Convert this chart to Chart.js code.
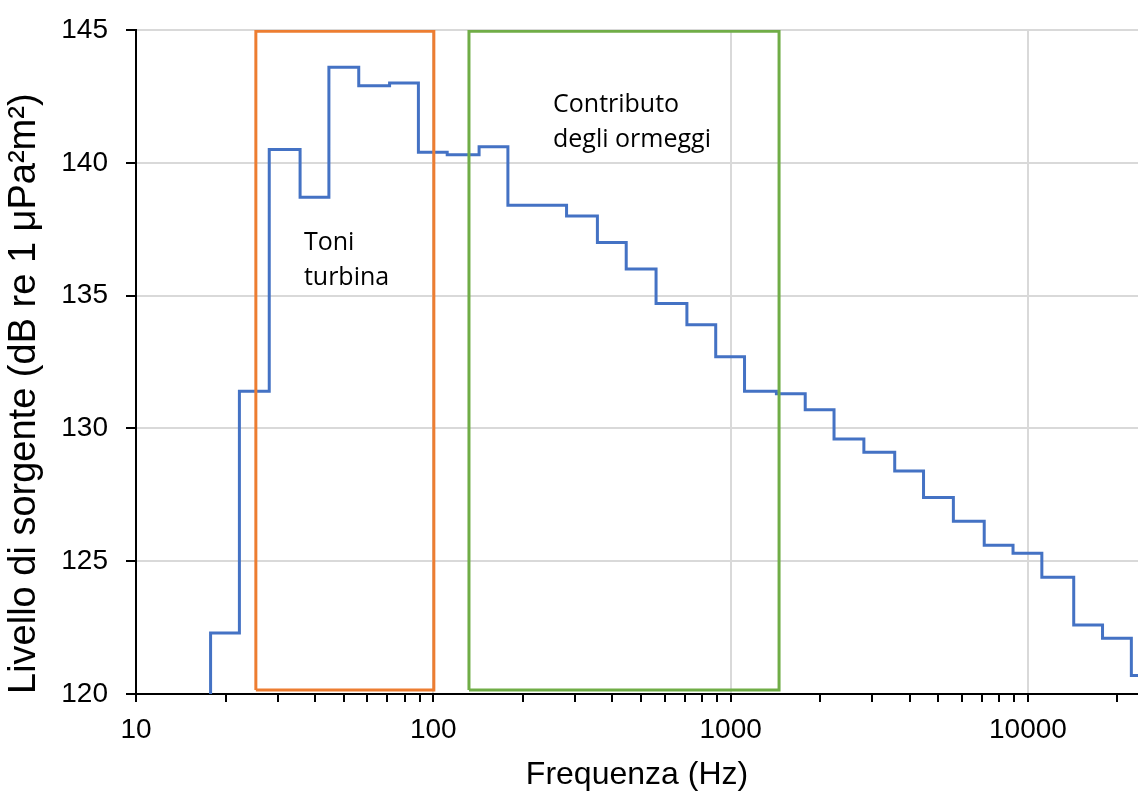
<!DOCTYPE html>
<html>
<head>
<meta charset="utf-8">
<script src="https://cdn.jsdelivr.net/npm/chart.js@4/dist/chart.umd.min.js"></script>
<style>
    html, body { margin: 0; padding: 0; background: #ffffff; }
    #wrap { width: 1138px; height: 794px; }
</style>
</head>
<body>
<div id="wrap"><canvas id="sourceChart" width="1138" height="794"></canvas></div>
<script>
// Bande a terzi d'ottava (frequenze nominali, Hz)
const bandCenters = [20, 25, 31.5, 40, 50, 63, 80, 100, 125, 160, 200, 250, 315, 400, 500, 630,
    800, 1000, 1250, 1600, 2000, 2500, 3150, 4000, 5000, 6300, 8000, 10000, 12500, 16000, 20000, 25000];
// Livello di sorgente per banda (dB re 1 µPa²m²)
const sourceLevels = [122.3, 131.4, 140.5, 138.7, 143.6, 142.9, 143.0, 140.4, 140.3, 140.6, 138.4, 138.4,
    138.0, 137.0, 136.0, 134.7, 133.9, 132.7, 131.4, 131.3, 130.7, 129.6, 129.1, 128.4, 127.4, 126.5,
    125.6, 125.3, 124.4, 122.6, 122.1, 120.7];

// Riquadri evidenziati (Hz, dB)
const turbineBoxX = [25.3, 100.4];
const turbineBoxY = [120.15, 144.95];
const mooringBoxX = [131.8, 1455];
const mooringBoxY = [120.15, 144.95];

const turbineLabel = ["Toni", "turbina"];
const mooringLabel = ["Contributo", "degli ormeggi"];
const turbineLabelAt = [36.7, 136.7];
const mooringLabelAt = [252.7, 141.9];

// Etichette asse
const xDecades = [10, 100, 1000, 10000];
const yTicks = [120, 125, 130, 135, 140, 145];

// Costruzione punti del grafico a gradini
function buildSteps() {
    const lowerEdge = f => f / Math.pow(2, 1 / 6);
    const points = [{ x: lowerEdge(bandCenters[0]), y: yTicks[0] }];
    bandCenters.forEach((f, i) => points.push({ x: lowerEdge(f), y: sourceLevels[i] }));
    const last = bandCenters.length - 1;
    points.push({ x: bandCenters[last] * Math.pow(2, 1 / 6), y: sourceLevels[last] });
    return points;
}

function buildBox(xs, ys) {
    return [
        { x: xs[0], y: ys[0] }, { x: xs[0], y: ys[1] }, { x: xs[1], y: ys[1] },
        { x: xs[1], y: ys[0] }, { x: xs[0], y: ys[0] }
    ];
}

// Tacche minori dell'asse x
const xTickValues = [];
xDecades.forEach(d => {
    for (let k = 1; k <= 9; k++) {
        if (d * k <= 20000) xTickValues.push(d * k);
    }
});

// Plugin per le scritte dentro il grafico
const boxLabels = {
    id: "boxLabels",
    afterDatasetsDraw(chart) {
        const ctx = chart.ctx;
        const xs = chart.scales.x;
        const ys = chart.scales.y;
        ctx.save();
        ctx.fillStyle = "#000000";
        ctx.font = "25px 'Open Sans'";
        ctx.textAlign = "left";
        ctx.textBaseline = "alphabetic";
        [[turbineLabel, turbineLabelAt], [mooringLabel, mooringLabelAt]].forEach(([lines, at]) => {
            const px = xs.getPixelForValue(at[0]);
            const py = ys.getPixelForValue(at[1]);
            lines.forEach((t, i) => ctx.fillText(t, px, py + i * 35));
        });
        ctx.restore();
    }
};

const ctx = document.getElementById("sourceChart").getContext("2d");
new Chart(ctx, {
    type: "line",
    data: {
        datasets: [
            {
                label: "Livello di sorgente",
                data: buildSteps(),
                borderColor: "#4472C4",
                borderWidth: 3,
                stepped: true,
                pointRadius: 0,
                fill: false,
                order: 2
            },
            {
                label: "Toni turbina",
                data: buildBox(turbineBoxX, turbineBoxY),
                borderColor: "#ED7D31",
                borderWidth: 3,
                pointRadius: 0,
                tension: 0,
                order: 1
            },
            {
                label: "Contributo degli ormeggi",
                data: buildBox(mooringBoxX, mooringBoxY),
                borderColor: "#70AD47",
                borderWidth: 3,
                pointRadius: 0,
                tension: 0,
                order: 1
            }
        ]
    },
    options: {
        responsive: false,
        animation: false,
        layout: { padding: { top: 30, right: 0, left: 0, bottom: 0 } },
        plugins: {
            legend: { display: false },
            tooltip: { enabled: false }
        },
        scales: {
            x: {
                type: "logarithmic",
                min: 10,
                max: 23450,
                afterBuildTicks: scale => {
                    scale.ticks = xTickValues.map(v => ({ value: v }));
                },
                afterFit: scale => { scale.height = 100; },
                ticks: {
                    autoSkip: false,
                    maxRotation: 0,
                    padding: 11,
                    color: "#000000",
                    font: { family: "'Liberation Sans', Arial", size: 28 },
                    callback: value => xDecades.includes(value) ? String(value) : ""
                },
                grid: {
                    color: c => (c.tick && xDecades.includes(c.tick.value) && c.tick.value > 10) ? "#d9d9d9" : "rgba(0,0,0,0)",
                    lineWidth: 2,
                    drawTicks: true,
                    tickLength: 8,
                    tickColor: "#000000",
                    tickWidth: 2
                },
                border: { display: true, color: "#000000", width: 2 },
                title: {
                    display: true,
                    text: "Frequenza (Hz)",
                    color: "#000000",
                    font: { family: "'Liberation Sans', Arial", size: 32 },
                    padding: { top: 4, bottom: 0 }
                }
            },
            y: {
                min: 120,
                max: 145,
                afterBuildTicks: scale => {
                    scale.ticks = yTicks.map(v => ({ value: v }));
                },
                afterFit: scale => {
                    scale.width = 136;
                    scale.paddingTop = 0;
                    scale.paddingBottom = 0;
                },
                ticks: {
                    padding: 18,
                    color: "#000000",
                    font: { family: "'Liberation Sans', Arial", size: 28 }
                },
                grid: {
                    color: "#d9d9d9",
                    lineWidth: 2,
                    drawTicks: true,
                    tickLength: 10,
                    tickColor: "#000000",
                    tickWidth: 2
                },
                border: { display: true, color: "#000000", width: 2 },
                title: {
                    display: true,
                    text: "Livello di sorgente (dB re 1 μPa²m²)",
                    align: "start",
                    color: "#000000",
                    font: { family: "'Liberation Sans', Arial", size: 38 },
                    padding: { top: 2, bottom: 0 }
                }
            }
        }
    },
    plugins: [boxLabels]
});
</script>
</body>
</html>
